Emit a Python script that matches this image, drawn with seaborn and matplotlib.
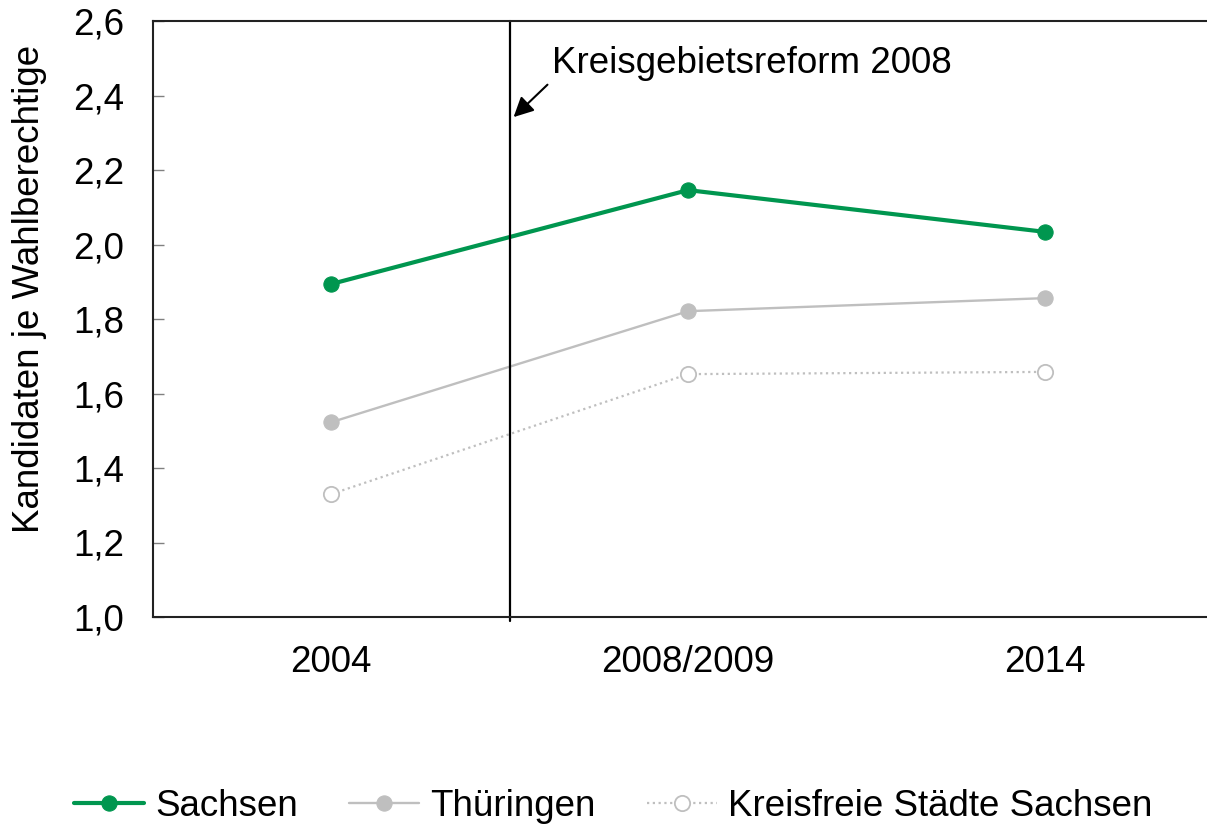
import matplotlib
matplotlib.use("Agg")
import matplotlib.pyplot as plt
import seaborn as sns
import pandas as pd

# data
years = ["2004", "2008/2009", "2014"]
sachsen = [1.894, 2.146, 2.034]
thueringen = [1.523, 1.821, 1.856]
kreisfreie = [1.330, 1.652, 1.658]

series_names = ["Sachsen", "Thüringen", "Kreisfreie Städte Sachsen"]
yticks = [1.0, 1.2, 1.4, 1.6, 1.8, 2.0, 2.2, 2.4, 2.6]

df = pd.DataFrame({
    "Jahr": years * 3,
    "Wert": sachsen + thueringen + kreisfreie,
    "Reihe": [s for s in series_names for _ in years],
})

sns.set_style("white")
plt.rcParams["font.family"] = ["Liberation Sans", "DejaVu Sans"]
plt.rcParams["text.color"] = "black"
plt.rcParams["axes.labelcolor"] = "black"
plt.rcParams["xtick.labelcolor"] = "black"
plt.rcParams["ytick.labelcolor"] = "black"
FS = 26.5

fig = plt.figure(figsize=(12.07, 8.30), dpi=100)
ax = fig.add_axes([153 / 1207, 1 - 617 / 830, 1070 / 1207, 596 / 830])

green = "#00964F"
grey = "#BFBFBF"

sns.lineplot(data=df[df.Reihe == "Sachsen"], x="Jahr", y="Wert", ax=ax,
             color=green, lw=3, marker="o", markersize=11, mec=green,
             label="Sachsen", sort=False)
sns.lineplot(data=df[df.Reihe == "Thüringen"], x="Jahr", y="Wert", ax=ax,
             color=grey, lw=1.7, marker="o", markersize=11, mec=grey,
             label="Thüringen", sort=False)
sns.lineplot(data=df[df.Reihe == "Kreisfreie Städte Sachsen"], x="Jahr", y="Wert", ax=ax,
             color=grey, lw=1.6, ls=(0, (1, 1.6)), marker="o", markersize=11,
             mfc="white", mec=grey, mew=1.3,
             label="Kreisfreie Städte Sachsen", sort=False)

ax.set_xlim(-0.5, 2.5)
ax.set_ylim(1.0, 2.6)
ax.set_yticks(yticks)
ax.set_yticklabels([f"{v:.1f}".replace(".", ",") for v in yticks], fontsize=FS)
ax.set_xticks(range(len(years)))
ax.set_xticklabels(years, fontsize=FS)
ax.set_xticks([0.5, 1.5], minor=True)
ax.tick_params(axis="x", which="major", length=0, pad=20)
ax.tick_params(axis="x", which="minor", direction="in", length=8, width=1, color="#808080")
ax.tick_params(axis="y", direction="in", length=8, width=1, color="#808080", pad=21, left=True)
ax.set_xlabel("")
ax.set_ylabel("Kandidaten je Wahlberechtige", fontsize=FS)
ax.yaxis.set_label_coords(-0.099, 0.55)

for side in ["left", "bottom", "top"]:
    ax.spines[side].set_color("#222222")
    ax.spines[side].set_linewidth(1.5)
ax.spines["right"].set_visible(False)

# Kreisgebietsreform marker
ax.axvline(0.5, ymin=-0.006, ymax=1, color="black", lw=1.6, clip_on=False)
ax.annotate("Kreisgebietsreform 2008", xy=(0.511, 2.342), xytext=(0.618, 2.487),
            fontsize=FS, va="center", ha="left",
            arrowprops=dict(arrowstyle="-|>", color="black", lw=1.5,
                            mutation_scale=30, shrinkA=1, shrinkB=0,
                            relpos=(0.0, 0.0)))

ax.get_legend().remove()
handles, labels = ax.get_legend_handles_labels()
fig.legend(handles, labels, loc="center", bbox_to_anchor=(0.508, 0.028), ncol=3,
           frameon=False, fontsize=FS, handlelength=1.9, handletextpad=0.3,
           columnspacing=1.4, borderaxespad=0)

fig.savefig("out.png", dpi=100)
